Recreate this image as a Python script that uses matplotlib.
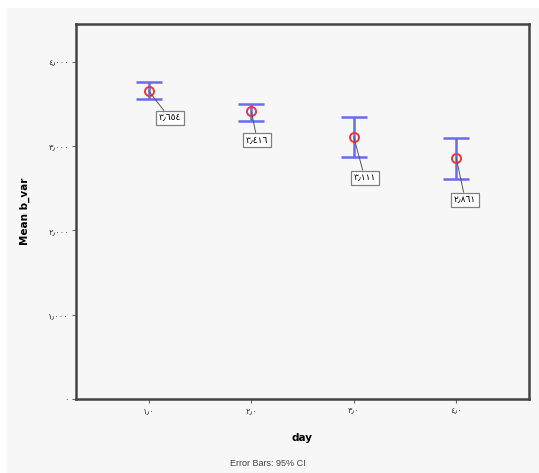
import matplotlib
matplotlib.use("Agg")
from matplotlib import pyplot as plt
from matplotlib.patches import Rectangle

# data
days = [1.0, 2.0, 3.0, 4.0]
means = [3.654, 3.416, 3.111, 2.861]
ci_low = [3.56, 3.30, 2.87, 2.61]
ci_high = [3.76, 3.50, 3.35, 3.10]
point_labels = ["٣٫٦٥٤", "٣٫٤١٦", "٣٫١١١", "٢٫٨٦١"]
label_offsets = [(21, -27), (6, -29), (11, -41), (9, -42)]  # pixels

y_ticks = [0, 1, 2, 3, 4]
y_ticklabels = ["٠", "١٫٠٠٠", "٢٫٠٠٠", "٣٫٠٠٠", "٤٫٠٠٠"]
x_ticklabels = ["١٫٠", "٢٫٠", "٣٫٠", "٤٫٠"]

bg = "#f7f7f7"
W, H = 539, 473
fig = plt.figure(figsize=(W / 100, H / 100), dpi=100)
fig.patch.set_facecolor("white")
fig.patches.append(Rectangle((7 / W, 0), 1, 1 - 8 / H, transform=fig.transFigure,
                             facecolor=bg, edgecolor="none", zorder=-10))

ax = fig.add_axes([76 / W, 1 - 399 / H, (529 - 76) / W, (399 - 24) / H])
ax.set_facecolor(bg)

err_lo = [m - l for m, l in zip(means, ci_low)]
err_hi = [h - m for m, h in zip(means, ci_high)]
ax.errorbar(days, means, yerr=[err_lo, err_hi], fmt="none", ecolor="#6a6af0",
            elinewidth=1.8, capsize=9.5, capthick=1.8, zorder=2)
ax.plot(days, means, "o", mfc="none", mec="#e8383c", mew=1.4, ms=6.5, zorder=3)

for x, m, lab, (dx, dy) in zip(days, means, point_labels, label_offsets):
    ax.annotate(lab, xy=(x, m), xytext=(dx * 0.72, dy * 0.72), textcoords="offset points",
                ha="center", va="center", fontsize=6.5, family="DejaVu Sans",
                bbox=dict(boxstyle="square,pad=0.3", fc="white", ec="#808080", lw=0.9),
                arrowprops=dict(arrowstyle="-", color="#555555", lw=0.7, shrinkA=0, shrinkB=0),
                zorder=4)

ax.set_xlim(0.29, 4.71)
ax.set_ylim(0, 4.45)
ax.set_yticks(y_ticks)
ax.set_yticklabels(y_ticklabels, fontsize=6, family="DejaVu Sans", color="#333333")
ax.set_xticks(days)
ax.set_xticklabels(x_ticklabels, fontsize=6, family="DejaVu Sans", color="#333333")
ax.tick_params(axis="both", length=3, width=0.8, color="#666666", pad=2)

for s in ax.spines.values():
    s.set_color("#444444")
    s.set_linewidth(1.8)

ax.set_ylabel("Mean b_var", fontsize=7.5, fontweight="bold", labelpad=13)
ax.set_xlabel("day", fontsize=7.5, fontweight="bold", labelpad=13)
fig.text(268 / W, 1 - 463 / H, "Error Bars: 95% CI", fontsize=6.5, color="#444444",
         ha="center", va="center", family="Liberation Sans")

fig.savefig("out.png", dpi=100, facecolor=fig.get_facecolor())
